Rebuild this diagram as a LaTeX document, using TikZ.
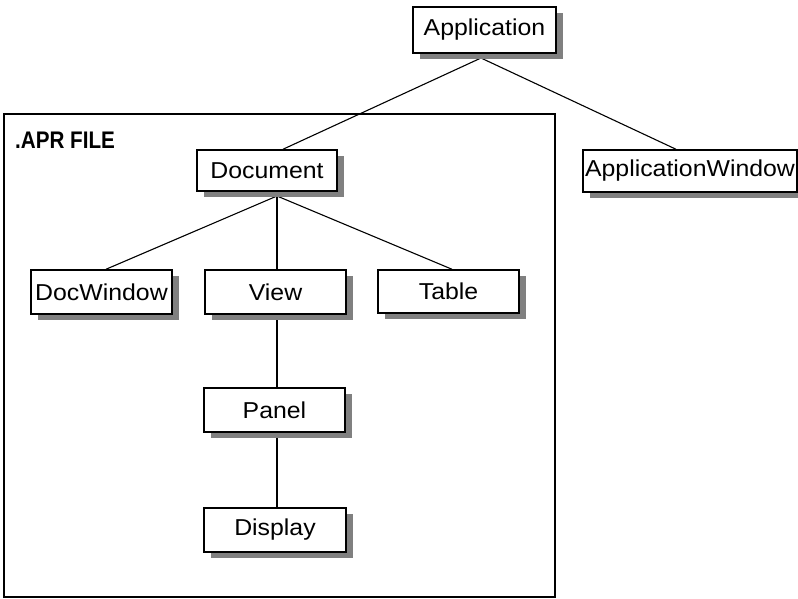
\documentclass[tikz,border=0pt]{standalone}
\usepackage{fontspec}
\setmainfont{Liberation Sans}
\usetikzlibrary{shadows,backgrounds}
\newcommand{\widetxt}[1]{\scalebox{1.08}[1]{#1}}
\tikzset{
  cls/.style={draw=black, line width=1.5pt, fill=white, inner sep=0pt,
    font=\fontsize{23}{27}\selectfont,
    drop shadow={shadow xshift=7pt, shadow yshift=-6pt, fill=black!50, opacity=1}},
  conn/.style={draw=black, line width=1.1pt},
  filebox/.style={draw=black, line width=1.3pt}
}
\begin{document}
\begin{tikzpicture}[x=1pt,y=-1pt]
\useasboundingbox (0,0) rectangle (798,598);
\node[cls, minimum width=143pt, minimum height=46pt] (app) at (484.5,30) {\widetxt{Application}};
\node[cls, minimum width=140pt, minimum height=41pt] (doc) at (267,170.5) {\widetxt{Document}};
\node[cls, minimum width=214pt, minimum height=42pt] (appwin) at (690,171) {\widetxt{ApplicationWindow}};
\node[cls, minimum width=141pt, minimum height=44pt] (docwin) at (101.5,292) {\widetxt{DocWindow}};
\node[cls, minimum width=141pt, minimum height=44pt] (view) at (275.5,292) {\widetxt{View}};
\node[cls, minimum width=141pt, minimum height=43pt] (table) at (448.5,291.5) {\widetxt{Table}};
\node[cls, minimum width=141pt, minimum height=44pt] (panel) at (274.5,410) {\widetxt{Panel}};
\node[cls, minimum width=142pt, minimum height=44pt] (display) at (275,530) {\widetxt{Display}};
\node[anchor=base west, inner sep=0pt, font=\fontsize{24}{28}\selectfont\bfseries] (aprlabel) at (15,148) {\scalebox{0.86}[1]{.APR FILE}};
\coordinate (appout) at (481,58);
\coordinate (docout) at (277,196);
\coordinate (filetl) at (4,114);
\coordinate (filebr) at (555,597);
\begin{scope}[on background layer]
\draw[filebox] (filetl) rectangle (filebr);
\draw[conn] (appout) -- ([xshift=16pt]doc.north);
\draw[conn] (appout) -- ([xshift=-14pt]appwin.north);
\draw[conn] (docout) -- ([xshift=4.5pt]docwin.north);
\draw[conn] (docout) -- ([xshift=1.5pt]view.north);
\draw[conn] (docout) -- ([xshift=3.5pt]table.north);
\draw[conn] ([xshift=1.5pt]view.south) -- ([xshift=2.5pt]panel.north);
\draw[conn] ([xshift=2.5pt]panel.south) -- ([xshift=2pt]display.north);
\end{scope}
\end{tikzpicture}
\end{document}
